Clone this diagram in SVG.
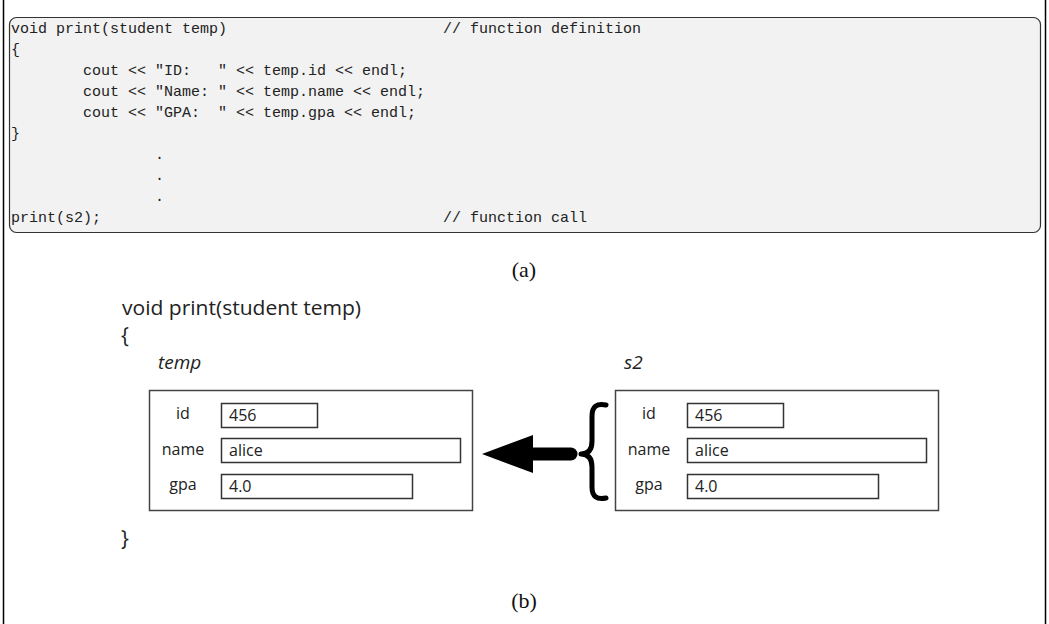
<svg xmlns="http://www.w3.org/2000/svg" width="1049" height="624" viewBox="0 0 1049 624">
<style>
.code{font-family:"Liberation Mono",monospace;font-size:15px;fill:#222;white-space:pre}
.cap{font-family:"Liberation Serif",serif;font-size:22px;fill:#111}
.s{font-family:"Open Sans","Liberation Sans",sans-serif;fill:#222}
.box{fill:#fff;stroke:#444;stroke-width:1.5}
.fld{fill:#fff;stroke:#333;stroke-width:1.5}
.lbl{font-family:"Open Sans","Liberation Sans",sans-serif;font-size:16px;fill:#222;text-anchor:middle}
.val{font-family:"Open Sans","Liberation Sans",sans-serif;font-size:16px;fill:#222}
</style>
<rect x="0" y="0" width="1049" height="624" fill="#fff"/>
<line x1="3.5" y1="0" x2="3.5" y2="624" stroke="#000" stroke-width="1.5"/>
<line x1="1045.5" y1="0" x2="1045.5" y2="624" stroke="#000" stroke-width="1.5"/>
<g id="code">
<rect x="9.5" y="17.5" width="1031" height="215" rx="7" fill="#f2f2f2" stroke="#333" stroke-width="1.2"/>
<text class="code" x="11" y="33" xml:space="preserve">void print(student temp)                        // function definition</text>
<text class="code" x="11" y="54">{</text>
<text class="code" x="11" y="75" xml:space="preserve">        cout &lt;&lt; "ID:   " &lt;&lt; temp.id &lt;&lt; endl;</text>
<text class="code" x="11" y="96" xml:space="preserve">        cout &lt;&lt; "Name: " &lt;&lt; temp.name &lt;&lt; endl;</text>
<text class="code" x="11" y="117" xml:space="preserve">        cout &lt;&lt; "GPA:  " &lt;&lt; temp.gpa &lt;&lt; endl;</text>
<text class="code" x="11" y="138">}</text>
<text class="code" x="155" y="159">.</text>
<text class="code" x="155" y="180">.</text>
<text class="code" x="155" y="201">.</text>
<text class="code" x="11" y="222" xml:space="preserve">print(s2);                                      // function call</text>
</g>
<text class="cap" x="524" y="277" text-anchor="middle">(a)</text>
<text class="cap" x="524" y="608" text-anchor="middle">(b)</text>
<g id="func">
<text class="s" x="122" y="315" font-size="20" textLength="239" lengthAdjust="spacingAndGlyphs">void print(student temp)</text>
<text class="s" x="121" y="343" font-size="21">{</text>
<text class="s" x="121" y="546" font-size="21">}</text>
</g>
<g id="temp">
<text class="s" x="158" y="369" font-size="19" font-style="italic">temp</text>
<rect class="box" x="149.5" y="390.5" width="323" height="120"/>
<text class="lbl" x="183" y="419">id</text>
<rect class="fld" x="221.5" y="403.5" width="96" height="24"/>
<text class="val" x="229" y="421">456</text>
<text class="lbl" x="183" y="455">name</text>
<rect class="fld" x="221.5" y="438.5" width="239" height="24"/>
<text class="val" x="229" y="456">alice</text>
<text class="lbl" x="183" y="490">gpa</text>
<rect class="fld" x="221.5" y="474.5" width="191" height="24"/>
<text class="val" x="229" y="492">4.0</text>
</g>
<g id="s2">
<text class="s" x="624" y="369" font-size="19" font-style="italic">s2</text>
<rect class="box" x="615.5" y="390.5" width="323" height="120"/>
<text class="lbl" x="649" y="419">id</text>
<rect class="fld" x="687.5" y="403.5" width="96" height="24"/>
<text class="val" x="695" y="421">456</text>
<text class="lbl" x="649" y="455">name</text>
<rect class="fld" x="687.5" y="438.5" width="239" height="24"/>
<text class="val" x="695" y="456">alice</text>
<text class="lbl" x="649" y="490">gpa</text>
<rect class="fld" x="687.5" y="474.5" width="191" height="24"/>
<text class="val" x="695" y="492">4.0</text>
</g>
<g id="connectors">
<line x1="530" y1="454" x2="571" y2="454" stroke="#000" stroke-width="13" stroke-linecap="round"/>
<polygon points="482,454 533,435 533,473" fill="#000"/>
<path d="M606,405 Q592,402 592,416 L592,441 Q592,454 581,454 Q592,454 592,467 L592,487 Q592,501 606,498" fill="none" stroke="#000" stroke-width="5" stroke-linecap="round" stroke-linejoin="round"/>
</g>
</svg>
